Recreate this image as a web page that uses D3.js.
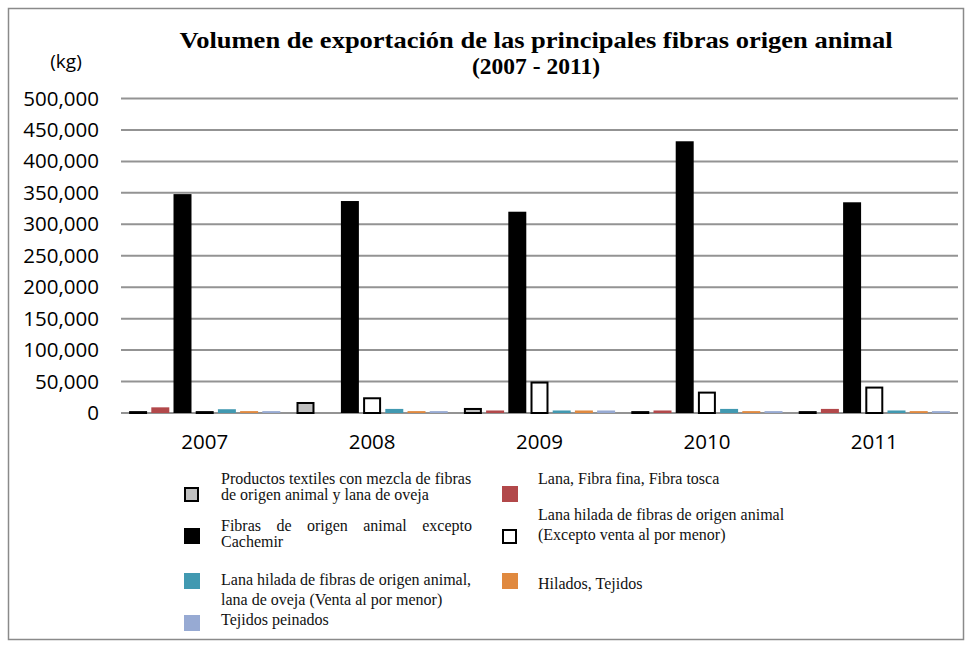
<!DOCTYPE html>
<html>
<head>
<meta charset="utf-8">
<script src="https://cdn.jsdelivr.net/npm/d3@7"></script>
<style>
  body { margin: 0; background: #fff; }
  svg { display: block; }
</style>
</head>
<body>
<svg id="chart" width="972" height="648"></svg>
<script>
// Export volume (kg) by fibre product, 2007–2011
const years = ["2007", "2008", "2009", "2010", "2011"];
const seriesKeys = ["mezcla", "lana", "fibras", "hiladaExc", "hiladaVenta", "hilados", "peinados"];

const mezcla      = [3000, 17500, 8000, 3000, 3000];
const lana        = [9000, 0, 4000, 4000, 6500];
const fibras      = [348000, 337000, 320000, 432000, 335000];
const hiladaExc   = [3000, 25000, 50000, 34000, 42000];
const hiladaVenta = [6000, 6500, 4000, 6500, 4000];
const hilados     = [3000, 3000, 4000, 3000, 3000];
const peinados    = [3000, 3000, 4000, 3000, 3000];

const yTicks = [0, 50000, 100000, 150000, 200000, 250000, 300000, 350000, 400000, 450000, 500000];

const titleLines = ["Volumen de exportación de las principales fibras origen animal", "(2007 - 2011)"];
const unitLabel = "(kg)";

const legendLines = {
  mezcla:      ["Productos textiles con mezcla de fibras", "de origen animal y lana de oveja"],
  lana:        ["Lana, Fibra fina, Fibra tosca"],
  fibras:      ["Fibras de origen animal excepto", "Cachemir"],
  hiladaExc:   ["Lana hilada de fibras de origen animal", "(Excepto venta al por menor)"],
  hiladaVenta: ["Lana hilada de fibras de origen animal,", "lana de oveja (Venta al por menor)"],
  hilados:     ["Hilados, Tejidos"],
  peinados:    ["Tejidos peinados"]
};

const values = { mezcla, lana, fibras, hiladaExc, hiladaVenta, hilados, peinados };

// Appearance of each series
const styles = {
  mezcla:      { fill: "#c0c0c0", stroke: "#000" },
  lana:        { fill: "#b2484a", stroke: null },
  fibras:      { fill: "#000000", stroke: null },
  hiladaExc:   { fill: "#ffffff", stroke: "#000" },
  hiladaVenta: { fill: "#4199b1", stroke: null },
  hilados:     { fill: "#e0893f", stroke: null },
  peinados:    { fill: "#97aad3", stroke: null }
};

const svg = d3.select("#chart");
const sansFont = "'Open Sans', 'Noto Sans', sans-serif";
const serifFont = "'Liberation Serif', 'DejaVu Serif', serif";

// Outer frame
svg.append("rect")
  .attr("x", 8.5).attr("y", 8.5)
  .attr("width", 955).attr("height", 631)
  .attr("fill", "#fff").attr("stroke", "#8a8a8a").attr("stroke-width", 1.5);

// Title (first line stretched to the full title width)
const titleWidths = [713, null];
svg.append("g").selectAll("text").data(titleLines).join("text")
  .attr("x", 536)
  .attr("y", (d, i) => 48 + i * 26)
  .attr("text-anchor", "middle")
  .attr("font-family", serifFont)
  .attr("font-weight", "bold")
  .attr("font-size", 23.5)
  .attr("fill", "#000")
  .each(function (d, i) {
    if (titleWidths[i]) {
      d3.select(this).attr("textLength", titleWidths[i]).attr("lengthAdjust", "spacingAndGlyphs");
    }
  })
  .text(d => d);

svg.append("text")
  .attr("x", 66).attr("y", 68)
  .attr("text-anchor", "middle")
  .attr("font-family", sansFont)
  .attr("font-size", 19)
  .attr("fill", "#000")
  .text(unitLabel);

// Scales
const x0 = d3.scaleBand().domain(years).range([121, 958]).padding(0);
const x1 = d3.scaleBand().domain(seriesKeys).range([0, x0.bandwidth()])
  .paddingInner(0.19).paddingOuter(0.365);
const y = d3.scaleLinear().domain([0, 500000]).range([413, 98.5]);

// Gridlines
svg.append("g").selectAll("line").data(yTicks).join("line")
  .attr("x1", 121).attr("x2", 958)
  .attr("y1", d => y(d)).attr("y2", d => y(d))
  .attr("stroke", "#939393").attr("stroke-width", 2);

// Y axis labels
const yAxis = svg.append("g").attr("transform", "translate(108,0)")
  .call(d3.axisLeft(y).tickValues(yTicks).tickFormat(d3.format(",")).tickSize(0).tickPadding(9));
yAxis.select(".domain").remove();
yAxis.selectAll("text")
  .attr("font-family", sansFont).attr("font-size", 20.5).attr("fill", "#000");

// X axis labels
const xAxis = svg.append("g").attr("transform", "translate(0,413)")
  .call(d3.axisBottom(x0).tickSize(0).tickPadding(21));
xAxis.select(".domain").remove();
xAxis.selectAll("text")
  .attr("font-family", sansFont).attr("font-size", 20.5).attr("fill", "#000");

// Bars
const barData = [];
years.forEach((yr, i) => seriesKeys.forEach(k => barData.push({ year: yr, key: k, value: values[k][i] })));

svg.append("g").selectAll("rect").data(barData).join("rect")
  .each(function (d) {
    const st = styles[d.key];
    const bx = x0(d.year) + x1(d.key);
    const bw = x1.bandwidth();
    const top = y(d.value);
    const h = y(0) - top;
    const r = d3.select(this);
    if (st.stroke) {
      r.attr("x", bx + 1).attr("y", top + 1)
        .attr("width", bw - 2).attr("height", Math.max(0, h - 1))
        .attr("fill", st.fill).attr("stroke", st.stroke).attr("stroke-width", 2);
    } else {
      r.attr("x", bx).attr("y", top).attr("width", bw).attr("height", h)
        .attr("fill", st.fill);
    }
  });

// Legend layout
const legendLayout = {
  mezcla:      { sx: 184, sy: 487, col: 221, base: 484, lh: 16 },
  lana:        { sx: 502, sy: 486, col: 538, base: 484, lh: 15 },
  fibras:      { sx: 184, sy: 528, col: 221, base: 531, lh: 16, justify: 251 },
  hiladaExc:   { sx: 502, sy: 529, col: 538, base: 520, lh: 20 },
  hiladaVenta: { sx: 184, sy: 573, col: 221, base: 585, lh: 20 },
  hilados:     { sx: 502, sy: 573, col: 538, base: 589, lh: 15 },
  peinados:    { sx: 184, sy: 615, col: 221, base: 625, lh: 15 }
};

const legendSize = 16;
const legend = svg.append("g");
seriesKeys.forEach(k => {
  const L = legendLayout[k];
  const st = styles[k];
  if (st.stroke) {
    legend.append("rect")
      .attr("x", L.sx + 1).attr("y", L.sy + 1).attr("width", 13).attr("height", 13)
      .attr("fill", st.fill).attr("stroke", st.stroke).attr("stroke-width", 2);
  } else {
    legend.append("rect")
      .attr("x", L.sx).attr("y", L.sy).attr("width", 16).attr("height", 16)
      .attr("fill", st.fill);
  }
  legendLines[k].forEach((line, i) => {
    const yy = L.base + i * L.lh;
    if (L.justify && i === 0) {
      // spread the words across the full column width
      const words = line.split(" ");
      const tmp = words.map(w => legend.append("text")
        .attr("font-family", serifFont).attr("font-size", legendSize).attr("fill", "#111")
        .attr("y", yy).text(w));
      const widths = tmp.map(t => t.node().getComputedTextLength());
      const gap = (L.justify - d3.sum(widths)) / (words.length - 1);
      let cx = L.col;
      tmp.forEach((t, j) => { t.attr("x", cx); cx += widths[j] + gap; });
    } else {
      legend.append("text")
        .attr("x", L.col).attr("y", yy)
        .attr("font-family", serifFont).attr("font-size", legendSize).attr("fill", "#111")
        .text(line);
    }
  });
});
</script>
</body>
</html>
